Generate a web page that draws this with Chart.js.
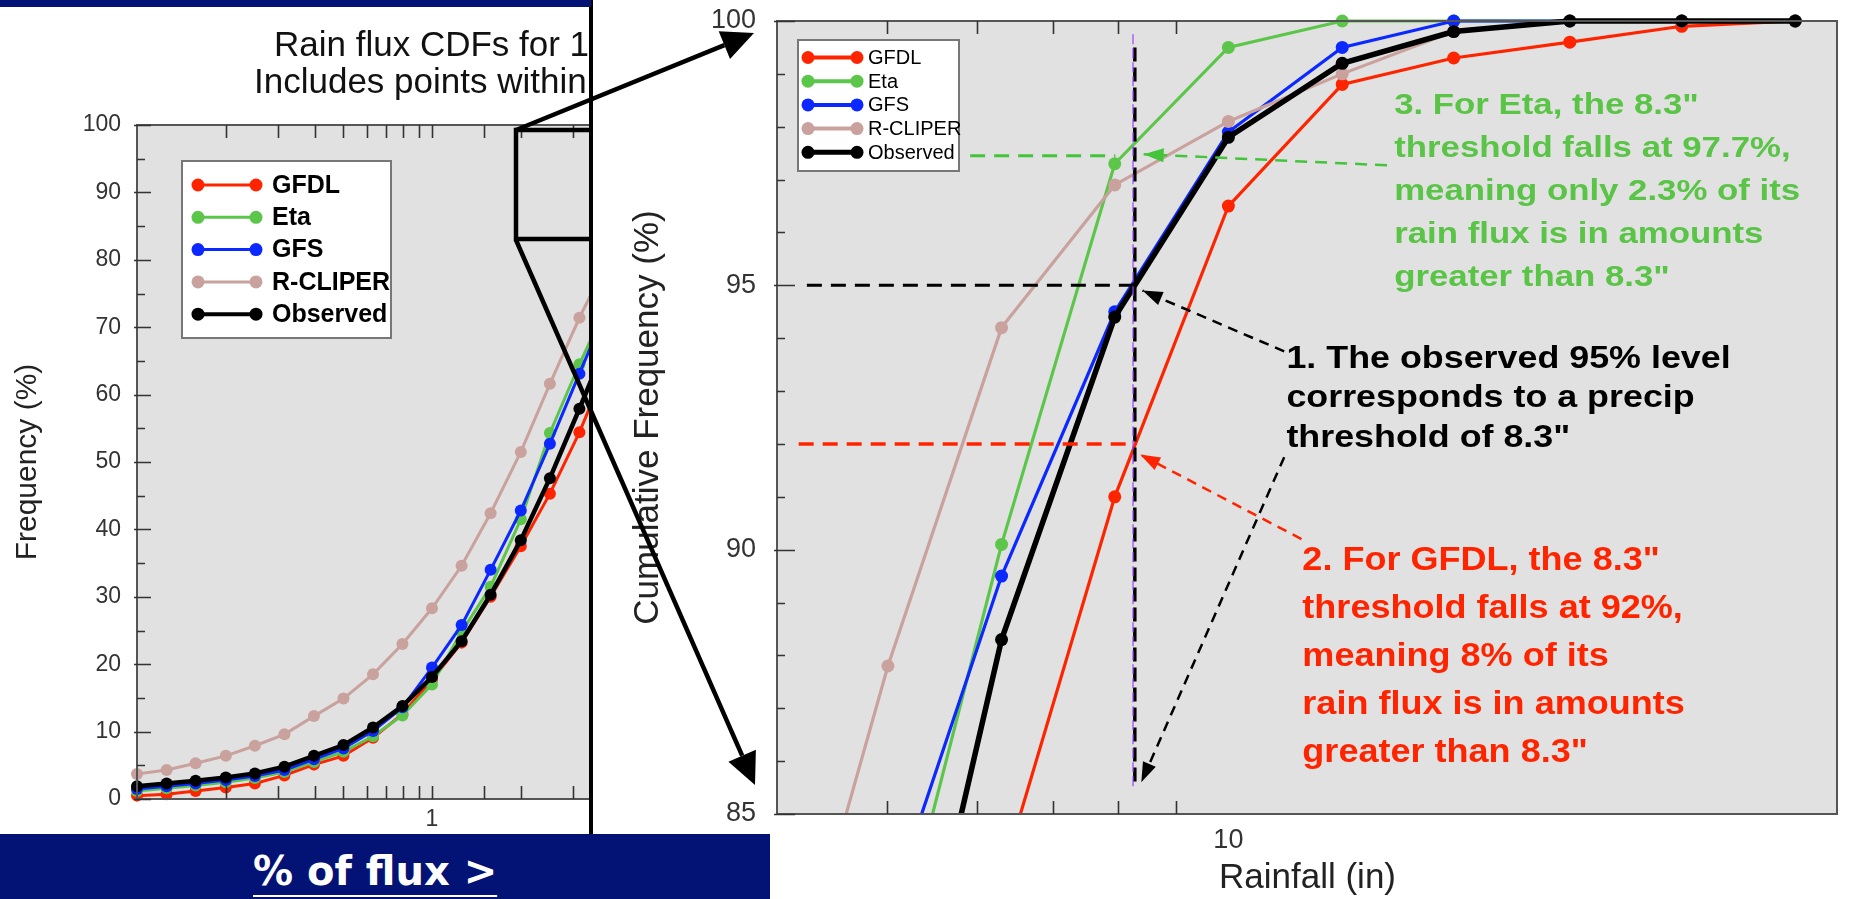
<!DOCTYPE html>
<html>
<head>
<meta charset="utf-8">
<title>Rain flux CDFs</title>
<script src="https://cdn.jsdelivr.net/npm/chart.js@4.4.1/dist/chart.umd.min.js"></script>
<style>
	body {
		margin: 0;
		width: 1853px;
		height: 899px;
		overflow: hidden;
		position: relative;
		background: #fff;
		font-family: "Liberation Sans", Arial, sans-serif;
	}

	.left-wrap { position: absolute; left: 0; top: 0; }
	.right-wrap { position: absolute; left: 591px; top: 0; width: 1262px; height: 899px; background: #fff; }
	.divider { position: absolute; left: 589px; top: 0; width: 4px; height: 834px; background: #000; }
	.band-top { position: absolute; left: 0; top: 0; width: 591px; height: 7px; background: #021275; }
	.band-bottom { position: absolute; left: 0; top: 834px; width: 770px; height: 65px; background: #021275; }
	.band-bottom span {
		position: absolute;
		left: 253px;
		top: 13px;
		color: #fff;
		font: bold 40px "DejaVu Sans", sans-serif;
		line-height: 48px;
		text-decoration: underline;
		text-decoration-thickness: 2px;
		text-underline-offset: 10px;
	}
	#marks { position: absolute; left: 0; top: 0; pointer-events: none; }
</style>
</head>
<body>

<div class="left-wrap"><canvas id="leftChart" width="1060" height="899"></canvas></div>
<div class="right-wrap"><canvas id="rightChart" width="1262" height="899"></canvas></div>
<div class="divider"></div>
<div class="band-top"></div>
<div class="band-bottom"><span>% of flux &gt;</span></div>
<canvas id="marks" width="1853" height="899"></canvas>

<script>
"use strict"

// rainfall thresholds (in), same for every series
const rainfall = [0.1, 0.126, 0.158, 0.2, 0.251, 0.316, 0.398, 0.501, 0.631, 0.794, 1, 1.26, 1.58, 2, 2.51, 3.16, 3.98, 5.01, 6.31, 7.94, 10, 12.6, 15.8, 20, 25.1, 31.6];

// cumulative frequency (%)
const gfdl = [0.5, 0.7, 1.2, 1.7, 2.3, 3.5, 5.1, 6.4, 9.1, 12.6, 17.7, 23.2, 30.0, 37.5, 45.3, 54.4, 65.0, 75.0, 83.8, 91.0, 96.5, 98.8, 99.3, 99.6, 99.9, 100];
const eta = [1.2, 1.6, 2.0, 2.5, 3.1, 4.0, 5.5, 7.0, 9.3, 12.4, 17.0, 24.8, 31.5, 41.5, 54.3, 64.5, 74.0, 81.7, 90.1, 97.3, 99.5, 100, 100, 100, 100, 100];
const gfs = [1.5, 1.9, 2.3, 2.8, 3.4, 4.3, 5.9, 7.5, 10.1, 13.6, 19.5, 25.8, 34.0, 42.8, 52.7, 63.1, 73.5, 83.1, 89.5, 94.5, 97.9, 99.5, 100, 100, 100, 100];
const rcliper = [3.7, 4.3, 5.3, 6.4, 7.9, 9.6, 12.3, 14.9, 18.5, 23.0, 28.3, 34.6, 42.4, 51.5, 61.6, 71.4, 80.2, 87.8, 94.2, 96.9, 98.1, 99.0, 99.8, 100, 100, 100];
const observed = [1.9, 2.3, 2.7, 3.2, 3.8, 4.8, 6.4, 8.0, 10.6, 13.8, 18.1, 23.4, 30.3, 38.4, 47.6, 57.9, 68.5, 79.0, 88.3, 94.4, 97.8, 99.2, 99.8, 100, 100, 100];

const seriesNames = ['GFDL', 'Eta', 'GFS', 'R-CLIPER', 'Observed'];
const seriesValues = [gfdl, eta, gfs, rcliper, observed];
const seriesColors = ['#ff2400', '#5cc64a', '#0a28ff', '#c9a19d', '#000000'];

// annotation lines on the zoomed chart, [rainfall, frequency]
const thresholdLine = [[8.27, 99.5], [8.27, 85.6]];
const thresholdMark = [[8.24, 99.75], [8.24, 85.5]];
const obsGuide = [[4.25, 95], [8.27, 95]];
const gfdlGuide = [[4.18, 92], [8.27, 92]];
const etaGuide = [[5.92, 97.45], [7.95, 97.45]];
const obsArrowUp = [[11.2, 93.75], [8.4, 94.9]];
const obsArrowDown = [[11.2, 91.75], [8.38, 85.6]];
const gfdlArrow = [[11.6, 90.2], [8.36, 91.8]];
const etaArrow = [[13.8, 97.27], [8.42, 97.48]];

const note1 = ['1. The observed 95% level', 'corresponds to a precip', 'threshold of 8.3"'];
const note2 = ['2. For GFDL, the 8.3"', 'threshold falls at 92%,', 'meaning 8% of its', 'rain flux is in amounts', 'greater than 8.3"'];
const note3 = ['3. For Eta, the 8.3"', 'threshold falls at 97.7%,', 'meaning only 2.3% of its', 'rain flux is in amounts', 'greater than 8.3"'];

const FONT = '"Liberation Sans", Arial, sans-serif';

function toPoints(values) {
	return rainfall.map((x, i) => ({ x: x, y: values[i] }));
}
function pairPoints(pairs) {
	return pairs.map(p => ({ x: p[0], y: p[1] }));
}
function isDecade(v) {
	const l = Math.log10(v);
	return Math.abs(l - Math.round(l)) < 1e-9;
}
function noPad(s) {
	s.paddingTop = 0;
	s.paddingBottom = 0;
	s.paddingLeft = 0;
	s.paddingRight = 0;
}

function seriesSets(lineWidth, obsWidth, radius, clip) {
	return seriesNames.map((name, i) => ({
		label: name,
		data: toPoints(seriesValues[i]),
		borderColor: seriesColors[i],
		backgroundColor: seriesColors[i],
		borderWidth: name === 'Observed' ? obsWidth : lineWidth,
		pointRadius: radius,
		pointBorderWidth: 0,
		pointBackgroundColor: seriesColors[i],
		order: name === 'Observed' ? 1 : 6 - i,
		clip: clip
	}));
}

function guideSet(pairs, color, width, dash, arrow) {
	return {
		label: '_guide',
		data: pairPoints(pairs),
		borderColor: color,
		backgroundColor: color,
		borderWidth: width,
		borderDash: dash,
		pointRadius: 0,
		order: 0,
		clip: false,
		arrow: arrow
	};
}

// grey plot area + frame
const plotBox = {
	id: 'plotBox',
	beforeDatasetsDraw(chart) {
		const a = chart.chartArea, ctx = chart.ctx;
		ctx.save();
		ctx.fillStyle = '#e1e1e1';
		ctx.fillRect(a.left, a.top, a.width, a.height);
		ctx.restore();
	},
	afterDraw(chart, args, opts) {
		const a = chart.chartArea, ctx = chart.ctx;
		ctx.save();
		ctx.strokeStyle = '#555';
		ctx.lineWidth = 2;
		ctx.strokeRect(a.left, a.top, a.width, a.height);

		// inward tick marks
		ctx.lineWidth = 1.6;
		ctx.strokeStyle = '#333';
		const xs = chart.scales.x, ys = chart.scales.y;
		ctx.beginPath();
		xs.ticks.forEach(t => {
			if (t.value <= xs.min || t.value >= xs.max || t.value > opts.xTickMax) return;
			const px = Math.round(xs.getPixelForValue(t.value)) + 0.5;
			ctx.moveTo(px, a.bottom); ctx.lineTo(px, a.bottom - opts.xTick);
			ctx.moveTo(px, a.top); ctx.lineTo(px, a.top + opts.xTick);
		});
		ys.ticks.forEach(t => {
			const py = Math.round(ys.getPixelForValue(t.value)) + 0.5;
			const len = t.label !== '' ? opts.yMajor : opts.yMinor;
			ctx.moveTo(a.left - (t.label !== '' ? 3 : 0), py); ctx.lineTo(a.left + len, py);
		});
		ctx.stroke();

		// axis caption placed as in the original
		if (opts.caption) {
			ctx.fillStyle = '#222';
			ctx.font = opts.caption.font;
			ctx.textBaseline = 'alphabetic';
			ctx.fillText(opts.caption.text, opts.caption.x, opts.caption.y);
		}
		ctx.restore();
	}
};

// legend box with a line and two dots per series
const dotLegend = {
	id: 'dotLegend',
	afterDatasetsDraw(chart, args, o) {
		const ctx = chart.ctx;
		ctx.save();
		ctx.fillStyle = '#fff';
		ctx.fillRect(o.x, o.y, o.w, o.h);
		ctx.strokeStyle = '#777';
		ctx.lineWidth = 2;
		ctx.strokeRect(o.x, o.y, o.w, o.h);
		ctx.font = o.font;
		ctx.textBaseline = 'middle';
		chart.data.datasets.forEach((ds, i) => {
			if (ds.label.startsWith('_')) return;
			const y = o.rowY + i * o.rowH;
			ctx.strokeStyle = ds.borderColor;
			ctx.fillStyle = ds.borderColor;
			ctx.lineWidth = ds.label === 'Observed' ? o.lineW + 1 : o.lineW;
			ctx.beginPath();
			ctx.moveTo(o.lineX, y); ctx.lineTo(o.lineX + o.lineL, y);
			ctx.stroke();
			[o.lineX, o.lineX + o.lineL].forEach(cx => {
				ctx.beginPath(); ctx.arc(cx, y, o.dot, 0, Math.PI * 2); ctx.fill();
			});
			ctx.fillStyle = '#000';
			ctx.fillText(ds.label, o.textX, y + 1);
		});
		ctx.restore();
	}
};

// arrowheads at the end of guide datasets, plus text notes
const notes = {
	id: 'notes',
	afterDatasetsDraw(chart, args, o) {
		const ctx = chart.ctx;
		ctx.save();
		chart.data.datasets.forEach((ds, i) => {
			if (!ds.arrow) return;
			const pts = chart.getDatasetMeta(i).data;
			const p0 = pts[pts.length - 2], p1 = pts[pts.length - 1];
			const ang = Math.atan2(p1.y - p0.y, p1.x - p0.x);
			ctx.fillStyle = ds.borderColor;
			ctx.beginPath();
			ctx.moveTo(p1.x, p1.y);
			ctx.lineTo(p1.x - 20 * Math.cos(ang) + 7 * Math.sin(ang), p1.y - 20 * Math.sin(ang) - 7 * Math.cos(ang));
			ctx.lineTo(p1.x - 20 * Math.cos(ang) - 7 * Math.sin(ang), p1.y - 20 * Math.sin(ang) + 7 * Math.cos(ang));
			ctx.closePath();
			ctx.fill();
		});
		const xs = chart.scales.x, ys = chart.scales.y;
		(o.blocks || []).forEach(b => {
			const x = xs.getPixelForValue(b.at[0]);
			const y = ys.getPixelForValue(b.at[1]);
			ctx.font = b.font;
			ctx.fillStyle = b.color;
			ctx.textBaseline = 'alphabetic';
			b.lines.forEach((line, k) => {
				ctx.save();
				ctx.translate(x, y + k * b.lh);
				ctx.scale(b.sx, 1);
				ctx.fillText(line, 0, 0);
				ctx.restore();
			});
		});
		ctx.restore();
	}
};

// title of the overview chart (partly covered by the zoom panel)
const leftTitle = {
	id: 'leftTitle',
	afterDraw(chart) {
		const ctx = chart.ctx;
		ctx.save();
		ctx.fillStyle = '#111';
		ctx.font = '35px ' + FONT;
		ctx.fillText('Rain flux CDFs for 1', 274, 56);
		ctx.fillText('Includes points within', 254, 93);
		ctx.restore();
	}
};

Chart.defaults.font.family = FONT;
Chart.defaults.color = '#333';

new Chart(document.getElementById('leftChart'), {
	type: 'line',
	data: { datasets: seriesSets(3, 4.5, 6, false) },
	options: {
		responsive: false,
		animation: false,
		layout: { padding: { top: 125, right: 38, left: 0, bottom: 0 } },
		plugins: {
			legend: { display: false },
			tooltip: { enabled: false },
			plotBox: { xTick: 13, yMajor: 14, yMinor: 8, xTickMax: 1000 },
			dotLegend: { x: 182, y: 161, w: 209, h: 177, rowY: 185, rowH: 32.3, lineX: 198, lineL: 58, lineW: 3, dot: 6.5, textX: 272, font: 'bold 25px ' + FONT }
		},
		scales: {
			x: {
				type: 'logarithmic',
				min: 0.1,
				max: 100,
				grid: { display: false, drawTicks: false },
				border: { display: false },
				afterFit: s => { noPad(s); s.height = 100; },
				ticks: {
					autoSkip: false,
					maxRotation: 0,
					padding: 7,
					font: { size: 23 },
					callback: v => (isDecade(v) && v >= 1 ? String(v) : '')
				}
			},
			y: {
				min: 0,
				max: 100,
				grid: { display: false, drawTicks: false },
				border: { display: false },
				afterFit: s => { noPad(s); s.width = 137; },
				ticks: {
					stepSize: 5,
					padding: 16,
					font: { size: 23 },
					callback: v => (v % 10 === 0 ? String(v) : '')
				},
				title: {
					display: true,
					text: 'Frequency (%)',
					color: '#222',
					font: { size: 30, lineHeight: 1.2 },
					padding: { top: 10, bottom: 0 }
				}
			}
		}
	},
	plugins: [plotBox, dotLegend, leftTitle]
});

const zoomSets = seriesSets(3.2, 5.5, 6.5, { left: 0, top: 10, right: 10, bottom: 0 }).concat([
	guideSet(thresholdMark, '#a040ff', 1.2, [10, 4], false),
	guideSet(thresholdLine, '#000', 3.5, [14, 6], false),
	guideSet(obsGuide, '#000', 3, [15, 9], false),
	guideSet(gfdlGuide, '#ff2400', 3.5, [15, 9], false),
	guideSet(etaGuide, '#44c43a', 3, [15, 9], false),
	guideSet(obsArrowUp, '#000', 2.5, [10, 7], true),
	guideSet(obsArrowDown, '#000', 2.5, [10, 7], true),
	guideSet(gfdlArrow, '#ff2400', 2.5, [10, 7], true),
	guideSet(etaArrow, '#44c43a', 2.5, [12, 8], true)
]);

new Chart(document.getElementById('rightChart'), {
	type: 'line',
	data: { datasets: zoomSets },
	options: {
		responsive: false,
		animation: false,
		layout: { padding: { top: 21, right: 16, left: 0, bottom: 0 } },
		plugins: {
			legend: { display: false },
			tooltip: { enabled: false },
			plotBox: {
				xTick: 13, yMajor: 18, yMinor: 8, xTickMax: 9.5,
				caption: { text: 'Rainfall (in)', x: 628, y: 888, font: '35px ' + FONT }
			},
			dotLegend: { x: 207, y: 40, w: 161, h: 131, rowY: 57.5, rowH: 23.7, lineX: 217, lineL: 49, lineW: 4, dot: 6.5, textX: 277, font: '20px ' + FONT },
			notes: {
				blocks: [
					{ lines: note1, at: [11.25, 93.44], lh: 39.5, sx: 1.12, color: '#000', font: 'bold 32px ' + FONT },
					{ lines: note2, at: [11.62, 89.62], lh: 48, sx: 1.06, color: '#ff2400', font: 'bold 34px ' + FONT },
					{ lines: note3, at: [14.0, 98.25], lh: 43, sx: 1.16, color: '#5ac447', font: 'bold 30px ' + FONT }
				]
			}
		},
		scales: {
			x: {
				type: 'logarithmic',
				min: 4,
				max: 34.4,
				grid: { display: false, drawTicks: false },
				border: { display: false },
				afterFit: s => { noPad(s); s.height = 85; },
				ticks: {
					autoSkip: false,
					maxRotation: 0,
					padding: 10,
					font: { size: 27 },
					callback: v => (isDecade(v) ? String(v) : '')
				}
			},
			y: {
				min: 85,
				max: 100,
				grid: { display: false, drawTicks: false },
				border: { display: false },
				afterFit: s => { noPad(s); s.width = 186; },
				ticks: {
					stepSize: 1,
					padding: 21,
					font: { size: 27 },
					callback: v => (v % 5 === 0 ? String(v) : '')
				},
				title: {
					display: true,
					text: 'Cumulative Frequency (%)',
					color: '#222',
					font: { size: 35, lineHeight: 1.2 },
					padding: { top: 36, bottom: 0 }
				}
			}
		}
	},
	plugins: [plotBox, notes, dotLegend]
});

// zoom box on the overview and the two pointer arrows
const marks = document.getElementById('marks').getContext('2d');

function bigArrow(ctx, x1, y1, x2, y2) {
	const ang = Math.atan2(y2 - y1, x2 - x1);
	const len = 32, half = 15;
	const bx = x2 - len * Math.cos(ang), by = y2 - len * Math.sin(ang);
	ctx.beginPath();
	ctx.moveTo(x1, y1);
	ctx.lineTo(bx, by);
	ctx.stroke();
	ctx.beginPath();
	ctx.moveTo(x2, y2);
	ctx.lineTo(bx + half * Math.sin(ang), by - half * Math.cos(ang));
	ctx.lineTo(bx - half * Math.sin(ang), by + half * Math.cos(ang));
	ctx.closePath();
	ctx.fill();
}

marks.strokeStyle = '#000';
marks.fillStyle = '#000';
marks.lineWidth = 4.5;
marks.beginPath();
marks.moveTo(591, 130);
marks.lineTo(516, 130);
marks.lineTo(516, 239);
marks.lineTo(591, 239);
marks.stroke();
bigArrow(marks, 516, 130, 754, 33);
bigArrow(marks, 516, 240, 755, 785);
</script>
</body>
</html>
